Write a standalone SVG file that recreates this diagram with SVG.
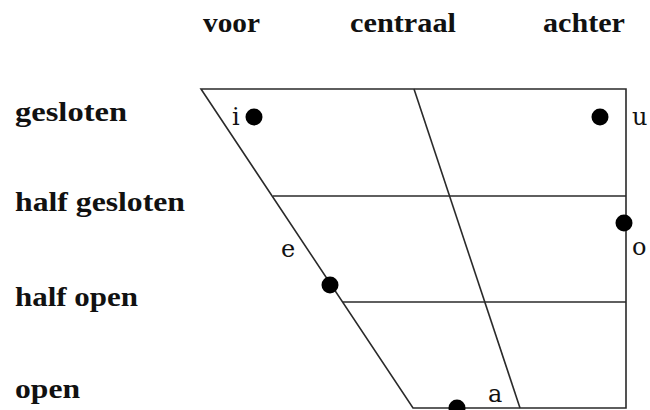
<svg xmlns="http://www.w3.org/2000/svg" width="650" height="410" viewBox="0 0 650 410">
  <style>
    .hdr { font-family: "Liberation Serif", "Times New Roman", serif; font-weight: bold; font-size: 27px; fill: #111; }
    .vw { font-family: "DejaVu Serif", serif; font-size: 24px; fill: #111; }
    .ln { stroke: #2a2a2a; stroke-width: 1.6; fill: none; }
    .dot { fill: #000; }
  </style>
  <rect width="650" height="410" fill="#fff"/>
  <g id="headers">
    <text class="hdr" x="203" y="32" textLength="57" lengthAdjust="spacingAndGlyphs">voor</text>
    <text class="hdr" x="350" y="32" textLength="106" lengthAdjust="spacingAndGlyphs">centraal</text>
    <text class="hdr" x="543" y="32" textLength="82" lengthAdjust="spacingAndGlyphs">achter</text>
    <text class="hdr" x="15" y="121" textLength="112" lengthAdjust="spacingAndGlyphs">gesloten</text>
    <text class="hdr" x="15" y="211" textLength="170" lengthAdjust="spacingAndGlyphs">half gesloten</text>
    <text class="hdr" x="15" y="306" textLength="123" lengthAdjust="spacingAndGlyphs">half open</text>
    <text class="hdr" x="15" y="398" textLength="65" lengthAdjust="spacingAndGlyphs">open</text>
  </g>
  <g id="chart">
    <polygon class="ln" points="201,89 626,89 626,408 413,408"/>
    <line class="ln" x1="273" y1="196" x2="626" y2="196"/>
    <line class="ln" x1="343" y1="302" x2="626" y2="302"/>
    <line class="ln" x1="414" y1="89" x2="520" y2="408"/>
  </g>
  <g id="vowel-i"><circle class="dot" cx="254" cy="117" r="8.5"/><text class="vw" x="232" y="125">i</text></g>
  <g id="vowel-u"><circle class="dot" cx="600" cy="117" r="8.5"/><text class="vw" x="632" y="125">u</text></g>
  <g id="vowel-o"><circle class="dot" cx="624" cy="223" r="8.5"/><text class="vw" x="632" y="255">o</text></g>
  <g id="vowel-e"><circle class="dot" cx="330" cy="285" r="8.5"/><text class="vw" x="281" y="257">e</text></g>
  <g id="vowel-a"><circle class="dot" cx="457" cy="408" r="8.5"/><text class="vw" x="488" y="402">a</text></g>
</svg>
